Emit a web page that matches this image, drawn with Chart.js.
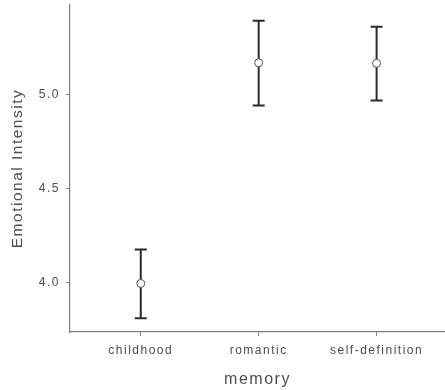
<!DOCTYPE html>
<html>
<head>
<meta charset="utf-8">
<script src="https://cdn.jsdelivr.net/npm/chart.js@4/dist/chart.umd.min.js"></script>
<style>
  html, body { margin: 0; padding: 0; background: #fff; }
  #wrap { width: 445px; height: 390px; }
</style>
</head>
<body>
<div id="wrap"><canvas id="chart"></canvas></div>
<script>
// values
const memory = ['childhood', 'romantic', 'self-definition'];
const meanIntensity = [3.995, 5.168, 5.165];
const lowerCI = [3.810, 4.941, 4.968];
const upperCI = [4.176, 5.391, 5.360];
const yTicks = [4.0, 4.5, 5.0];

const points = memory.map((m, i) => ({ x: i + 1, y: meanIntensity[i] }));

// the reference text is set a bit loose
const spacing = {
  id: 'spacing',
  beforeLayout(chart) { chart.ctx.letterSpacing = '1.5px'; },
  beforeDraw(chart) { chart.ctx.letterSpacing = '1.5px'; }
};

// vertical error bars with caps, drawn behind the points
const errorBars = {
  id: 'errorBars',
  beforeDatasetsDraw(chart) {
    const { ctx, scales: { x, y } } = chart;
    ctx.save();
    ctx.strokeStyle = '#2b2b2b';
    ctx.lineWidth = 2;
    memory.forEach((m, i) => {
      const px = x.getPixelForValue(i + 1);
      const top = y.getPixelForValue(upperCI[i]);
      const bot = y.getPixelForValue(lowerCI[i]);
      ctx.beginPath();
      ctx.moveTo(px, top); ctx.lineTo(px, bot);
      ctx.moveTo(px - 6, top); ctx.lineTo(px + 6, top);
      ctx.moveTo(px - 6, bot); ctx.lineTo(px + 6, bot);
      ctx.stroke();
    });
    ctx.restore();
  }
};

const noPad = s => { s.paddingLeft = s.paddingRight = s.paddingTop = s.paddingBottom = 0; };
const tickFont = { family: '"Liberation Sans", Arial, sans-serif', size: 12 };
const titleFont = { family: '"Liberation Sans", Arial, sans-serif', size: 15.5 };

new Chart(document.getElementById('chart'), {
  type: 'scatter',
  data: {
    datasets: [{
      data: points,
      pointRadius: 4,
      pointHoverRadius: 4,
      pointBackgroundColor: '#ffffff',
      pointBorderColor: '#555555',
      pointBorderWidth: 1
    }]
  },
  options: {
    responsive: true,
    maintainAspectRatio: false,
    animation: false,
    layout: { autoPadding: false, padding: { top: 5, left: 0, right: 0, bottom: 0 } },
    plugins: { legend: { display: false }, tooltip: { enabled: false } },
    scales: {
      x: {
        type: 'linear',
        min: 0.4,
        max: 3.58,
        afterBuildTicks: s => { s.ticks = memory.map((m, i) => ({ value: i + 1 })); },
        afterFit: s => { s.height = 58; noPad(s); },
        ticks: {
          callback: v => memory[v - 1],
          color: '#4d4d4d',
          font: tickFont,
          padding: 7,
          maxRotation: 0
        },
        grid: { drawOnChartArea: false, tickLength: 4, tickColor: '#7f7f7f' },
        border: { color: '#7f7f7f', width: 1.2 },
        title: {
          display: true,
          text: 'memory',
          color: '#4d4d4d',
          font: { ...titleFont, size: 16 },
          padding: { top: 0, bottom: 1 }
        }
      },
      y: {
        min: 3.737,
        max: 5.475,
        afterBuildTicks: s => { s.ticks = yTicks.map(v => ({ value: v })); },
        afterFit: s => { s.width = 70; noPad(s); },
        ticks: {
          callback: v => v.toFixed(1),
          color: '#4d4d4d',
          font: tickFont,
          padding: 6
        },
        grid: { drawOnChartArea: false, tickLength: 4, tickColor: '#7f7f7f' },
        border: { color: '#7f7f7f', width: 1.2 },
        title: {
          display: true,
          text: 'Emotional Intensity',
          color: '#4d4d4d',
          font: titleFont,
          padding: { top: 8, bottom: 0 }
        }
      }
    }
  },
  plugins: [spacing, errorBars]
});
</script>
</body>
</html>
